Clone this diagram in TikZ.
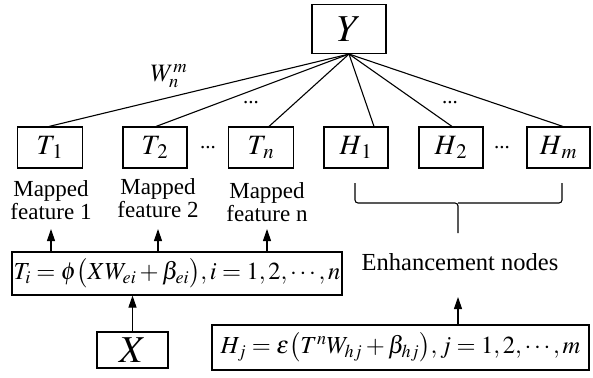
\documentclass[tikz,border=0pt]{standalone}
\usepackage{mathptmx}
\usepackage{fontspec}
\setmainfont{Liberation Serif}
\usepackage{tikz}
\usetikzlibrary{arrows.meta}

\begin{document}
\begin{tikzpicture}[x=1pt, y=-1pt, line width=1.1pt,
   box/.style={draw=black, inner sep=0pt},
   arr/.style={-{Triangle[length=12pt,width=8pt]}},
   lbl/.style={font=\fontsize{23}{23}\selectfont, align=center},
   dots/.style={font=\fontsize{21}{21}\selectfont, inner sep=0pt}]

   \useasboundingbox (0,0) rectangle (593,377);

   % output and hidden layer
   \node[box, minimum width=74pt, minimum height=49pt, font=\fontsize{38}{38}\selectfont] (Y) at (349,29) {$Y$};
   \node[box, minimum width=65pt, minimum height=41pt, font=\fontsize{28}{28}\selectfont] (T1) at (50,147.5) {$T_{\,1}$};
   \node[box, minimum width=64pt, minimum height=41pt, font=\fontsize{28}{28}\selectfont] (T2) at (155,147.5) {$T_{\,2}$};
   \node[box, minimum width=65pt, minimum height=41pt, font=\fontsize{28}{28}\selectfont] (Tn) at (261,147.5) {$T_{\,n}$};
   \node[box, minimum width=64pt, minimum height=41pt, font=\fontsize{28}{28}\selectfont] (H1) at (356,147.5) {$H_{\,1}$};
   \node[box, minimum width=64pt, minimum height=41pt, font=\fontsize{28}{28}\selectfont] (H2) at (451,147.5) {$H_{\,2}$};
   \node[box, minimum width=63pt, minimum height=41pt, font=\fontsize{28}{28}\selectfont] (Hm) at (558.5,147.5) {$H_{\,m}$};

   \draw (Y.south) -- ([xshift=-1pt]T1.north);
   \draw (Y.south) -- ([xshift=1pt]T2.north);
   \draw (Y.south) -- ([xshift=8pt]Tn.north);
   \draw (Y.south) -- ([xshift=18pt]H1.north);
   \draw (Y.south) -- ([xshift=1pt]H2.north);
   \draw (Y.south) -- ([xshift=4.5pt]Hm.north);

   \node[font=\fontsize{25}{25}\selectfont] (W) at (169,76) {$W_n^m$};
   \node[dots] (d1) at (251,103) {...};
   \node[dots] (d2) at (450,103) {...};
   \node[dots] (d3) at (208,148) {...};
   \node[dots] (d4) at (502,148) {...};

   % mapped features
   \node[lbl] (map1) at (51,200) {Mapped\\feature 1};
   \node[lbl] (map2) at (158,198) {Mapped\\feature 2};
   \node[lbl] (mapn) at (267,202) {Mapped\\feature n};

   \node[box, minimum width=330pt, minimum height=43pt, font=\fontsize{24.5}{24.5}\selectfont] (Tf) at (177,273.5)
      {$T_i=\phi\big(XW_{ei}+\beta_{ei}\big),i=1,2,\cdots,n$};
   \node[box, minimum width=71pt, minimum height=36pt, font=\fontsize{38}{38}\selectfont] (X) at (132.5,350) {$X$};

   \coordinate (a1) at (51,229);
   \coordinate (a2) at (158,229);
   \coordinate (an) at (267,229);
   \draw[arr] (Tf.north -| a1) -- (a1);
   \draw[arr] (Tf.north -| a2) -- (a2);
   \draw[arr] (Tf.north -| an) -- (an);
   \draw[arr] (X) -- (Tf.south -| X);

   % enhancement nodes
   \draw[rounded corners=3pt] (355,183) -- (355,203) -- (458,203) -- (458,233);
   \draw[rounded corners=3pt] (562,183) -- (562,203) -- (458,203);
   \node[font=\fontsize{24.5}{24.5}\selectfont] (enh) at (460,262) {Enhancement nodes};

   \node[box, minimum width=377pt, minimum height=45pt, font=\fontsize{24.5}{24.5}\selectfont] (Hf) at (400.5,347.5)
      {$H_j=\varepsilon\big(T^nW_{hj}+\beta_{hj}\big),j=1,2,\cdots,m$};
   \coordinate (ae) at (458,297);
   \draw[arr] (Hf.north -| ae) -- (ae);

\end{tikzpicture}
\end{document}
